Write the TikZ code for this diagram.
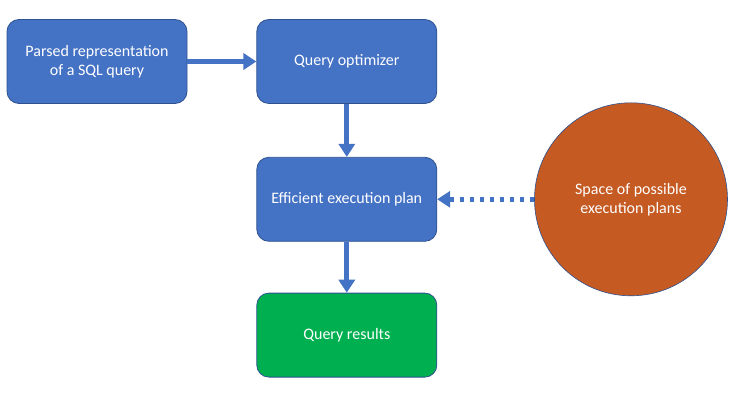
\documentclass[tikz,border=0pt]{standalone}
\usepackage{fontspec}
\setmainfont{Carlito}
\usetikzlibrary{arrows.meta}
\usetikzlibrary{positioning}
\definecolor{mblue}{HTML}{4472C4}
\definecolor{mbluedark}{HTML}{2F528F}
\definecolor{mgreen}{HTML}{00B050}
\definecolor{morange}{HTML}{C55A22}
\tikzset{box/.style = {rectangle, rounded corners=12pt, draw=mbluedark, line width=0.8pt,
                       fill=mblue, text=white, align=center,
                       minimum width=180pt, minimum height=84pt,
                       font=\fontsize{16}{19}\selectfont}}
\tikzset{flow/.style = {draw=mblue, line width=5pt,
                        -{Triangle[width=16pt,length=13pt]}}}

\begin{document}
\begin{tikzpicture}[x=1pt, y=1pt]
    \useasboundingbox (0, 0) rectangle (737, -404);

    \node [box] (parsed) at (97, -61.5) {Parsed representation\\of a SQL query};
    \node [box, right=69pt of parsed] (optimizer) {Query optimizer};
    \node [box, below=53pt of optimizer] (plan) {Efficient execution plan};
    \node [box, below=51pt of plan, fill=mgreen] (results) {Query results};
    \node [circle, draw=mbluedark, line width=0.6pt, fill=morange, text=white, align=center,
           minimum size=193pt, font=\fontsize{16}{19}\selectfont,
           right=97pt of plan] (space) {Space of possible\\execution plans};

    \draw [flow] (parsed) -- (optimizer);
    \draw [flow] (optimizer) -- (plan);
    \draw [flow] (plan) -- (results);
    \draw [flow, dash pattern=on 4.5pt off 5.5pt] (space) -- (plan);
  \end{tikzpicture}
\end{document}
